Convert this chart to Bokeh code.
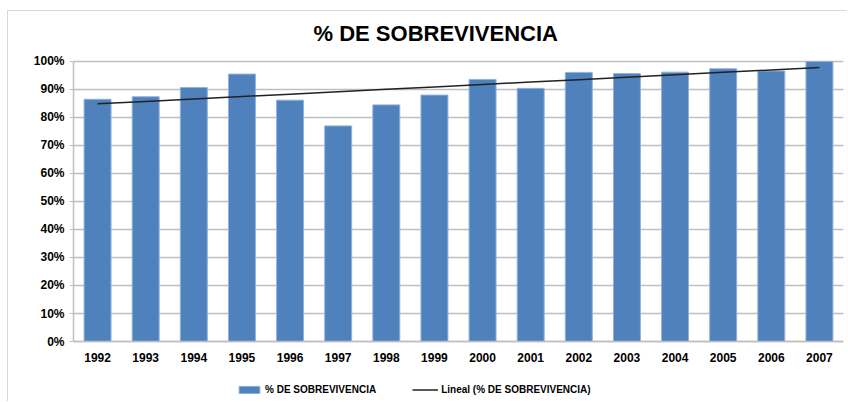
import numpy as np
from bokeh.plotting import figure
from bokeh.models import (ColumnDataSource, FactorRange, Range1d, FixedTicker,
                          NumeralTickFormatter, Legend, LegendItem)
from bokeh.embed import file_html
from bokeh.resources import INLINE

# ---- data ----
years = ["1992", "1993", "1994", "1995", "1996", "1997", "1998", "1999",
         "2000", "2001", "2002", "2003", "2004", "2005", "2006", "2007"]
survival = [0.865, 0.874, 0.907, 0.955, 0.862, 0.770, 0.845, 0.880,
            0.936, 0.904, 0.961, 0.957, 0.962, 0.974, 0.966, 1.000]
y_ticks = [0.0, 0.1, 0.2, 0.3, 0.4, 0.5, 0.6, 0.7, 0.8, 0.9, 1.0]
title_text = "% DE SOBREVIVENCIA"
series_label = "% DE SOBREVIVENCIA"
trend_label = "Lineal (% DE SOBREVIVENCIA)"

# linear trend (least squares, as Excel's "Lineal" trendline)
idx = np.arange(len(survival))
slope, intercept = np.polyfit(idx, np.array(survival), 1)
trend = list(intercept + slope * idx)

src = ColumnDataSource(dict(year=years, val=survival, trend=trend))

FONT = "Liberation Sans"

# frame extends a little above 100% and below the zero line
# to leave room for tick labels and the legend
p = figure(width=840, height=391, output_backend="svg", toolbar_location=None,
           x_range=FactorRange(*years, range_padding=0),
           y_range=Range1d(-0.2107, 1.0571),
           min_border_left=65, min_border_right=5, min_border_bottom=2,
           min_border_top=34, title=title_text)
p.styles = {"margin-left": "7px", "margin-top": "10px",
            "border-top": "1px solid #d9d9d9", "border-left": "1px solid #d9d9d9"}

p.title.align = "left"
p.title.offset = 240
p.title.text_font = FONT
p.title.text_font_size = "22px"
p.title.text_font_style = "bold"
p.title.text_color = "#000000"
p.title.standoff = 0

bars = p.vbar(x="year", top="val", width=0.56, source=src,
              fill_color="#4F81BD", line_color="#8fb1dc", line_width=1)
tl = p.line(x="year", y="trend", source=src, line_color="#222222", line_width=1.5)

p.outline_line_color = None
p.background_fill_color = "white"

p.xgrid.grid_line_color = None
p.ygrid.ticker = FixedTicker(ticks=y_ticks)
p.ygrid.grid_line_color = "#BFBFBF"
p.ygrid.grid_line_width = 1.5

p.yaxis.ticker = FixedTicker(ticks=y_ticks)
p.yaxis.bounds = (0, 1)
p.yaxis.formatter = NumeralTickFormatter(format="0%")
p.yaxis.axis_line_color = "#BFBFBF"
p.yaxis.axis_line_width = 1.5
p.yaxis.major_tick_line_color = "#BFBFBF"
p.yaxis.major_tick_in = 0
p.yaxis.major_tick_out = 4
p.yaxis.minor_tick_line_color = None
p.yaxis.major_label_text_font = FONT
p.yaxis.major_label_text_font_style = "bold"
p.yaxis.major_label_text_font_size = "12px"
p.yaxis.major_label_text_color = "#000000"
p.yaxis.major_label_standoff = 5

p.xaxis.fixed_location = 0
p.xaxis.axis_line_color = "#BFBFBF"
p.xaxis.axis_line_width = 1.5
p.xaxis.major_tick_line_color = None
p.xaxis.minor_tick_line_color = None
p.xaxis.major_label_text_font = FONT
p.xaxis.major_label_text_font_style = "bold"
p.xaxis.major_label_text_font_size = "12px"
p.xaxis.major_label_text_color = "#000000"
p.xaxis.major_label_standoff = 5

legend = Legend(items=[LegendItem(label=series_label, renderers=[bars]),
                       LegendItem(label=trend_label, renderers=[tl])],
                orientation="horizontal", location=(163, 5),
                padding=0, margin=0, spacing=36,
                glyph_width=26, glyph_height=9, label_height=10,
                label_standoff=3,
                label_text_font=FONT, label_text_font_style="bold",
                label_text_font_size="10px", label_text_color="#000000",
                border_line_color=None, background_fill_alpha=0)
p.add_layout(legend, "center")

open("out.html", "w").write(file_html(p, INLINE))
